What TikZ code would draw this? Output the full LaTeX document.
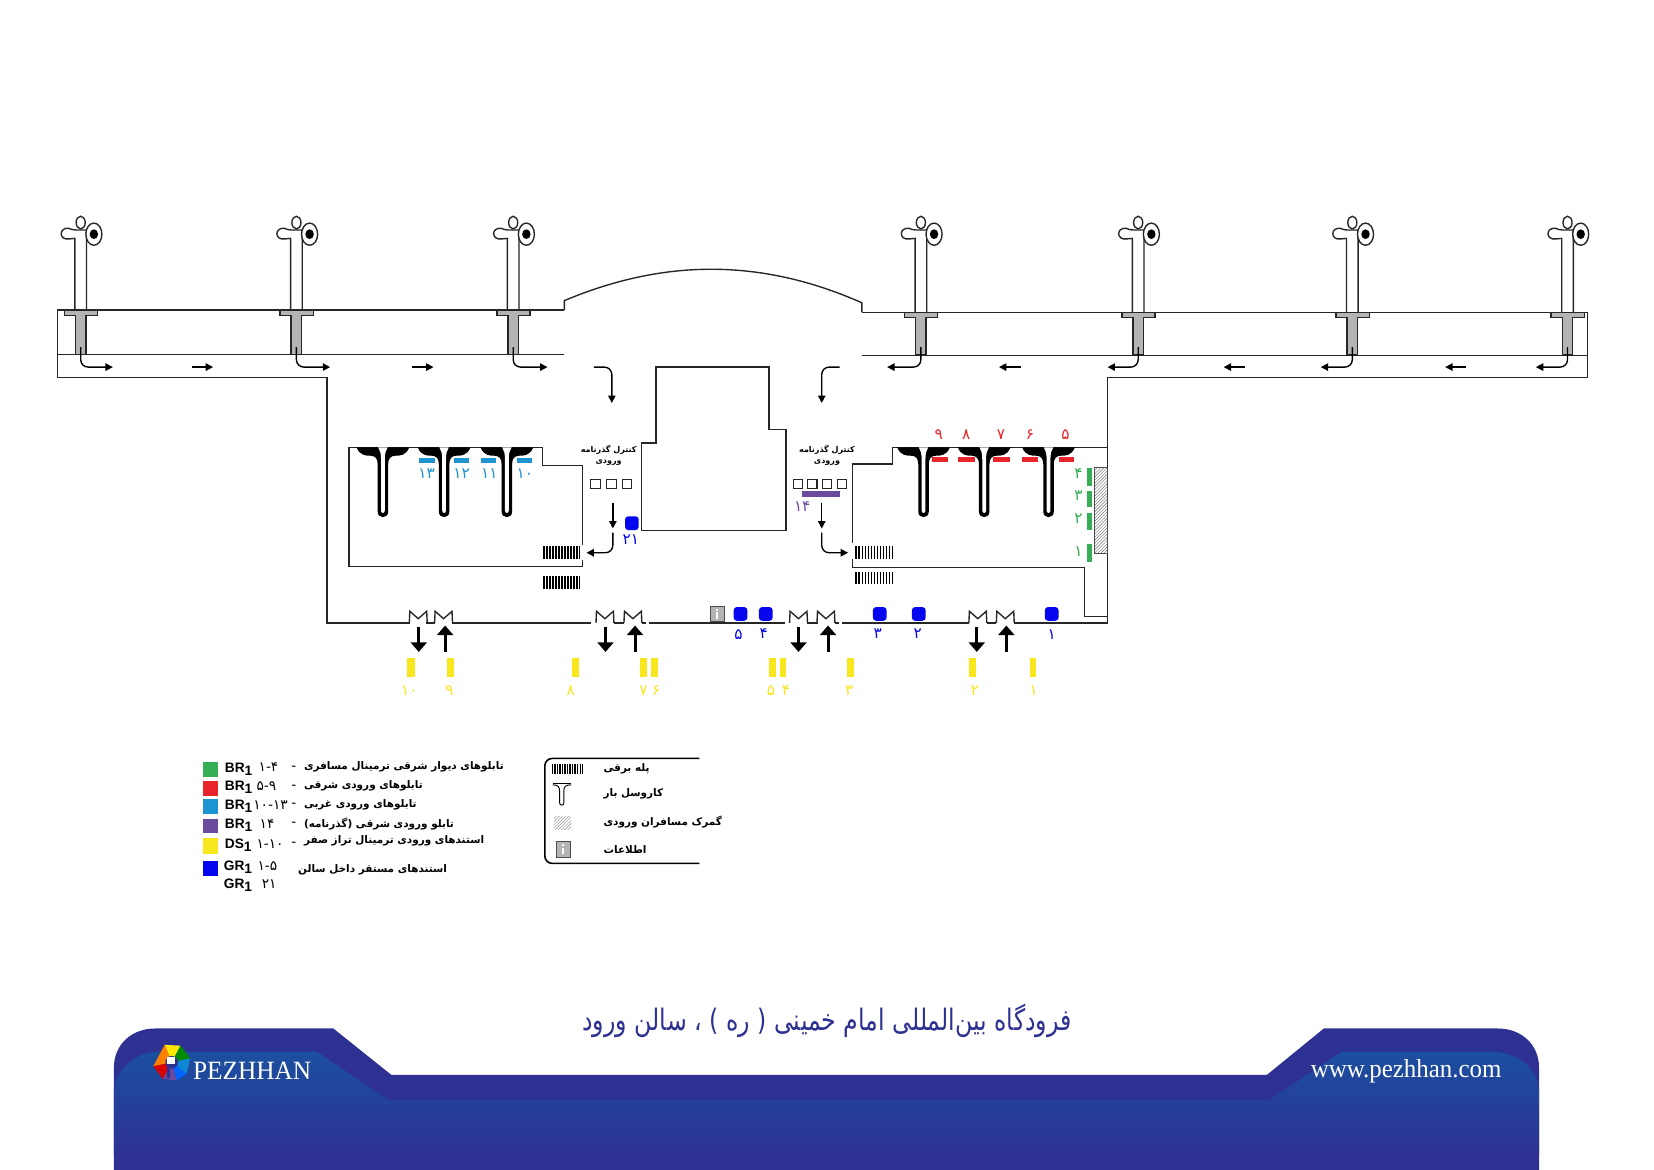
\documentclass[tikz,border=0pt]{standalone}
\usepackage{fontspec}
\usepackage{tikz}
\usetikzlibrary{arrows.meta, patterns}
\TeXXeTstate=1
\setmainfont{Liberation Serif}
\newfontfamily\arabicfont[Script=Arabic]{DejaVu Sans}
\newfontfamily\titlefont[Script=Arabic,FakeStretch=.8]{DejaVu Sans}
\newfontfamily\brandfont[FakeStretch=.96]{Liberation Serif}
\newfontfamily\legendfont{Liberation Sans}

\definecolor{navyband}{HTML}{2E3192}
\definecolor{lightband}{HTML}{1B4F9F}
\definecolor{stgreen}{HTML}{35AE55}
\definecolor{stred}{HTML}{E9242B}
\definecolor{stcyan}{HTML}{1C94D2}
\definecolor{stpurple}{HTML}{6A4B9D}
\definecolor{styellow}{HTML}{F9E71E}
\definecolor{stblue}{HTML}{0505EE}
\definecolor{stgrey}{HTML}{B4B4B4}

\tikzset{
  wall/.style={line width=1.3pt, draw=black!85},
  flow/.style={line width=1.3pt, -{Triangle[length=7pt,width=7pt]}},
  bigflow/.style={line width=2.8pt, -{Triangle[length=9pt,width=15pt]}},
  desk/.style={draw=black!85, line width=1pt, fill=white, minimum size=9pt, inner sep=0pt},
  gate/.style={fill=stblue, rounded corners=3pt, minimum size=13pt, inner sep=0pt},
  num/.style={inner sep=0pt, font=\arabicfont\fontsize{14.5}{14.5}\selectfont},
  legtext/.style={inner sep=0pt, anchor=west, font=\arabicfont\bfseries\fontsize{9.9}{11}\selectfont},
  passtext/.style={inner sep=0pt, font=\arabicfont\bfseries\fontsize{7.6}{9}\selectfont},
  legcode/.style={inner sep=0pt, anchor=west, font=\legendfont\bfseries\fontsize{13}{13}\selectfont},
  legnum/.style={inner sep=0pt, anchor=west, font=\arabicfont\fontsize{13}{13}\selectfont},
}

% jet bridge, stem down to the hall line
\newcommand{\bridge}[2]{
  \begin{scope}[shift={(#1,0)}]
    \draw[wall, fill=white] (-5.5,#2) -- (-5.5,226) -- (-11,226.5)
      .. controls (-21,228) and (-21,215) .. (-11,216.5)
      .. controls (-9,217.5) .. (-5,218) -- (5.5,218) -- (5.5,#2);
    \draw[wall, fill=white] (0,211) ellipse (4.3 and 6);
    \draw[wall, fill=white] (12.5,222) ellipse (7.6 and 10.5);
    \fill[black] (12.5,222) ellipse (4 and 4.6);
    \draw[wall, fill=stgrey] (-15.5,#2) -- (16,#2) -- (16,#2+5) -- (5,#2+5) -- (5,336)
      -- (-5,336) -- (-5,#2+5) -- (-15.5,#2+5) -- cycle;
  \end{scope}
}
% baggage carousel, black with a white slit
\newcommand{\carousel}[1]{
  \begin{scope}[shift={(#1,424)}]
    \fill[black] (-25,0) .. controls (-22,8) and (-16,8) .. (-12,8)
      .. controls (-7,8) and (-5,11) .. (-5,16) -- (-5,61) .. controls (-5,68) and (5,68) .. (5,61) -- (5,16)
      .. controls (5,11) and (7,8) .. (12,8) .. controls (16,8) and (22,8) .. (25,0) -- cycle;
    \fill[white] (-4.5,0) .. controls (-2.5,3) and (-1.8,6) .. (-1.8,12) -- (-1.8,60)
      .. controls (-1.8,63) and (1.8,63) .. (1.8,60) -- (1.8,12) .. controls (1.8,6) and (2.5,3) .. (4.5,0) -- cycle;
  \end{scope}
}
% escalator, its first bar at x and y the upper edge
\newcommand{\escalator}[3]{
  \draw[line width=#3pt, dash pattern=on 1.6pt off 1.25pt] (#1,#2+#3/2) -- ++(34.5,0);
}
% door leaf on the south wall
\newcommand{\door}[1]{
  \draw[wall] (#1-8.5,590.5) -- (#1-8,579.5) -- (#1,586.5) -- (#1+8,579.5) -- (#1+8.5,590.5);
}
% info desk
\newcommand{\infobox}[2]{
  \fill[stgrey, draw=black!70, line width=.8pt] (#1-6.5,#2-7.5) rectangle (#1+6.5,#2+7.5);
  \fill[white] (#1-.9,#2-1.5) rectangle (#1+.9,#2+5);
  \fill[white] (#1-.9,#2-5) rectangle (#1+.9,#2-3);
}
\newcommand{\logoseg}[3]{
  \fill[#1] (162.8,1007) -- ([shift={(#2:17.8)}]162.8,1007) -- ([shift={(#3:17.8)}]162.8,1007) -- cycle;
}

\begin{document}
\begin{tikzpicture}[x=1pt,y=-1pt]
  \path[use as bounding box, fill=white] (0,0) rectangle (1568,1109);

  % hall
  \draw[wall] (535,294) -- (54.4,294) -- (54.4,358) -- (310,358) -- (310,590.5) -- (389,590.5);
  \draw[wall] (54.4,336) -- (535,336);
  \draw[wall] (817,296) -- (1505,296) -- (1505,358) -- (1050,358) -- (1050,590.5) -- (961,590.5);
  \draw[wall] (817,337) -- (1505,337);
  \draw[wall] (535,294) -- (535,285) .. controls (630,245) and (722,245) .. (817,287) -- (817,296);

  \bridge{76.5}{294}
  \bridge{281}{294}
  \bridge{486.5}{294}
  \bridge{873}{296}
  \bridge{1079}{296}
  \bridge{1282}{296}
  \bridge{1486}{296}

  \draw[flow, rounded corners=7pt] (76.5,329) -- (76.5,348) -- (107,348);
  \draw[flow, rounded corners=7pt] (281,329) -- (281,348) -- (313,348);
  \draw[flow, rounded corners=7pt] (486.5,329) -- (486.5,348) -- (519,348);
  \draw[flow] (182,348) -- (202,348);
  \draw[flow] (391,348) -- (411,348);
  \draw[flow, rounded corners=7pt] (873,329) -- (873,348) -- (841,348);
  \draw[flow, rounded corners=7pt] (1079,329) -- (1079,348) -- (1050,348);
  \draw[flow, rounded corners=7pt] (1282,329) -- (1282,348) -- (1252,348);
  \draw[flow, rounded corners=7pt] (1486,329) -- (1486,348) -- (1456,348);
  \draw[flow] (968,348) -- (947,348);
  \draw[flow] (1180,348) -- (1160,348);
  \draw[flow] (1390,348) -- (1370,348);
  \draw[flow, rounded corners=7pt] (563,348) -- (580,348) -- (580,382);
  \draw[flow, rounded corners=7pt] (796,348) -- (779,348) -- (779,382);

  % centre block
  \draw[wall] (622,348) -- (729,348) -- (729,407) -- (745,407) -- (745,503) -- (608,503)
    -- (608,420) -- (622,420) -- cycle;

  % west baggage room
  \draw[wall] (552,517) -- (552,441) -- (514,441) -- (514,424) -- (331,424) -- (331,537) -- (552,537) -- (552,531);
  \carousel{363}
  \carousel{421}
  \carousel{480.5}
  \escalator{515}{518}{12}
  \escalator{515}{546}{12}
  \draw[flow] (581,477) -- (581,501);
  \draw[flow, rounded corners=7pt] (581,505) -- (581,524) -- (556,524);

  % east baggage room
  \draw[wall] (808,515) -- (808,440) -- (846,440) -- (846,424) -- (1050,424);
  \draw[wall] (808,530) -- (808,538) -- (1028,538) -- (1028,584.5) -- (1050,584.5);
  \carousel{875.5}
  \carousel{933}
  \carousel{994}
  \escalator{811}{518}{12}
  \escalator{811}{542}{12}
  \draw[flow] (779,477) -- (779,501);
  \draw[flow, rounded corners=7pt] (779,505) -- (779,524) -- (804,524);
  \draw[draw=black!70, line width=1pt, pattern=north east lines, pattern color=black!55] (1038,443) rectangle (1049.6,524.5);

  % passport desks
  \node[desk] (dw1) at (564.5,459) {};
  \node[desk] (dw2) at (579.5,459) {};
  \node[desk] (dw3) at (594.5,459) {};
  \node[desk] (de1) at (756.5,459) {};
  \node[desk] (de2) at (770,459) {};
  \node[desk] (de3) at (784,459) {};
  \node[desk] (de4) at (798,459) {};
  \node[passtext] (passw1) at (577,426) {\beginR کنترل گذرنامه\endR};
  \node[passtext] (passw2) at (577,439) {\beginR ورودی\endR};
  \node[passtext] (passe1) at (784,426) {\beginR کنترل گذرنامه\endR};
  \node[passtext] (passe2) at (784,439) {\beginR ورودی\endR};

  % boards, west
  \fill[stcyan] (397,434) rectangle (412,439);
  \fill[stcyan] (430,434) rectangle (445,439);
  \fill[stcyan] (456,434) rectangle (470.5,439);
  \fill[stcyan] (490,434) rectangle (504.5,439);
  \node[num, stcyan] (c13) at (404.5,449) {۱۳};
  \node[num, stcyan] (c12) at (437.5,449) {۱۲};
  \node[num, stcyan] (c11) at (464,449) {۱۱};
  \node[num, stcyan] (c10) at (497.5,449) {۱۰};

  % boards, east
  \fill[stred] (884,433) rectangle (899,438);
  \fill[stred] (908.5,433) rectangle (924,438);
  \fill[stred] (941,433) rectangle (957,438);
  \fill[stred] (969,433) rectangle (984,438);
  \fill[stred] (1003.5,433) rectangle (1018.5,438);
  \node[num, stred] (r9) at (890,412) {۹};
  \node[num, stred] (r8) at (916,412) {۸};
  \node[num, stred] (r7) at (949,412) {۷};
  \node[num, stred] (r6) at (976.5,412) {۶};
  \node[num, stred] (r5) at (1010,412) {۵};

  \fill[stgreen] (1030.5,444) rectangle (1035,461);
  \fill[stgreen] (1030.5,465) rectangle (1035,481);
  \fill[stgreen] (1030.5,486) rectangle (1035,502.5);
  \fill[stgreen] (1030.5,516) rectangle (1035,532.5);
  \node[num, stgreen] (g4) at (1022.5,449) {۴};
  \node[num, stgreen] (g3) at (1022.5,470) {۳};
  \node[num, stgreen] (g2) at (1022.5,492) {۲};
  \node[num, stgreen] (g1) at (1022.5,523) {۱};

  \fill[stpurple] (760.5,465) rectangle (796,471);
  \node[num, stpurple] (p14) at (760.5,480) {۱۴};

  % south wall and doors
  \draw[wall] (404,590.5) -- (412,590.5);
  \draw[wall] (428.5,590.5) -- (560.5,590.5);
  \draw[wall] (582,590.5) -- (591.5,590.5);
  \draw[wall] (608.5,590.5) -- (612,590.5);
  \draw[wall] (615,590.5) -- (744,590.5);
  \draw[wall] (765.5,590.5) -- (775,590.5);
  \draw[wall] (791.5,590.5) -- (795,590.5);
  \draw[wall] (798,590.5) -- (918.5,590.5);
  \draw[wall] (935.5,590.5) -- (944.5,590.5);
  \door{396.5}
  \door{420.5}
  \door{573.5}
  \door{600}
  \door{757}
  \door{783}
  \door{927}
  \door{953}
  \draw[bigflow] (397,594) -- (397,618);
  \draw[bigflow] (422,618) -- (422,593);
  \draw[bigflow] (574,594) -- (574,618);
  \draw[bigflow] (602,618) -- (602,593);
  \draw[bigflow] (757,594) -- (757,618);
  \draw[bigflow] (785,618) -- (785,593);
  \draw[bigflow] (926,594) -- (926,618);
  \draw[bigflow] (954,618) -- (954,593);

  % ground stands inside the hall
  \infobox{680}{582}
  \node[gate] (g5) at (702,582) {};
  \node[gate] (g4b) at (726,582) {};
  \node[gate] (g3b) at (834,582) {};
  \node[gate] (g2b) at (871,582) {};
  \node[gate] (g1b) at (997,582) {};
  \node[gate] (g21) at (599,496) {};
  \node[num, stblue] (n5) at (700,602) {۵};
  \node[num, stblue] (n4) at (724,601) {۴};
  \node[num, stblue] (n3) at (832,601) {۳};
  \node[num, stblue] (n2) at (870,601) {۲};
  \node[num, stblue] (n1) at (997,602) {۱};
  \node[num, stblue] (n21) at (598,512) {۲۱};

  % stands outside the terminal
  \fill[styellow] (386,624) rectangle (393,642);
  \fill[styellow] (423.5,624) rectangle (430,642);
  \fill[styellow] (542,624) rectangle (548.5,642);
  \fill[styellow] (607,624) rectangle (613.5,642);
  \fill[styellow] (617,624) rectangle (623.5,642);
  \fill[styellow] (729,624) rectangle (735.5,642);
  \fill[styellow] (739,624) rectangle (745.5,642);
  \fill[styellow] (803,624) rectangle (809.5,642);
  \fill[styellow] (919,624) rectangle (925.5,642);
  \fill[styellow] (976,624) rectangle (982.5,642);
  \node[num, styellow] (y10) at (388,655) {۱۰};
  \node[num, styellow] (y9) at (426,655) {۹};
  \node[num, styellow] (y8) at (541,655) {۸};
  \node[num, styellow] (y7) at (610,655) {۷};
  \node[num, styellow] (y6) at (622,655) {۶};
  \node[num, styellow] (y5) at (731,655) {۵};
  \node[num, styellow] (y4) at (745,655) {۴};
  \node[num, styellow] (y3) at (805,655) {۳};
  \node[num, styellow] (y2) at (924,655) {۲};
  \node[num, styellow] (y1) at (980,655) {۱};

  % key, colours
  \fill[stgreen] (192.5,722.5) rectangle (207,737);
  \fill[stred] (192.5,740) rectangle (207,754.5);
  \fill[stcyan] (192.5,757.5) rectangle (207,771.5);
  \fill[stpurple] (192.5,776) rectangle (207,790);
  \fill[styellow] (192.5,794) rectangle (207,809.5);
  \fill[stblue] (192.5,816) rectangle (207,830.5);
  \node[legcode] (k1) at (213,729) {BR\raisebox{-3pt}{1}};
  \node[legcode] (k2) at (213,746.5) {BR\raisebox{-3pt}{1}};
  \node[legcode] (k3) at (213,764) {BR\raisebox{-3pt}{1}};
  \node[legcode] (k4) at (213,782) {BR\raisebox{-3pt}{1}};
  \node[legcode] (k5) at (213,801) {DS\raisebox{-3pt}{1}};
  \node[legcode] (k6) at (212,822) {GR\raisebox{-3pt}{1}};
  \node[legcode] (k7) at (212,839.5) {GR\raisebox{-3pt}{1}};
  \node[legnum] (r1) at (245,727.5) {۱-۴};
  \node[legnum] (r2) at (243,745.5) {۵-۹};
  \node[legnum] (r3) at (240,763) {۱۰-۱۳};
  \node[legnum] (r4) at (246,781) {۱۴};
  \node[legnum] (r5b) at (243,800) {۱-۱۰};
  \node[legnum] (r6) at (244,821) {۱-۵};
  \node[legnum] (r7) at (248,838.5) {۲۱};
  \node[legnum] (d1) at (276,728.5) {-};
  \node[legnum] (d2) at (276,746) {-};
  \node[legnum] (d3) at (276,763.5) {-};
  \node[legnum] (d4) at (276,781.5) {-};
  \node[legnum] (d5) at (276,800.5) {-};
  \node[legtext] (t1) at (288,727) {\beginR تابلوهای دیوار شرقی ترمینال مسافری\endR};
  \node[legtext] (t2) at (288,745) {\beginR تابلوهای ورودی شرقی\endR};
  \node[legtext] (t3) at (288,763) {\beginR تابلوهای ورودی غربی\endR};
  \node[legtext] (t4) at (288,781) {\beginR تابلو ورودی شرقی (گذرنامه)\endR};
  \node[legtext] (t5) at (288,797) {\beginR استندهای ورودی ترمینال تراز صفر\endR};
  \node[legtext] (t6) at (282.5,825) {\beginR استندهای مستقر داخل سالن\endR};

  % key, symbols
  \draw[line width=1.5pt, rounded corners=7pt] (663,719) -- (516.5,719) -- (516.5,818.5) -- (663,818.5);
  \draw[line width=10pt, dash pattern=on 1.3pt off 1.1pt] (523,729) -- (553.5,729);
  \draw[line width=.9pt] (524,742.5) -- (541.5,742.5);
  \draw[line width=.9pt] (524,744) .. controls (529,744) and (530.5,746) .. (530.5,750) -- (530.5,761)
    .. controls (530.5,764) and (534.5,764) .. (534.5,761) -- (534.5,750) .. controls (534.5,746) and (536,744) .. (541.5,744);
  \fill[pattern=north east lines, pattern color=black!45] (525,774) rectangle (541.5,786);
  \infobox{534}{805}
  \node[legtext] (s1) at (572,729) {\beginR پله برقی\endR};
  \node[legtext] (s2) at (572,752.5) {\beginR کاروسل بار\endR};
  \node[legtext] (s3) at (572,779) {\beginR گمرک  مسافران ورودی\endR};
  \node[legtext] (s4) at (572,805) {\beginR اطلاعات\endR};

  % title band
  \node[inner sep=0pt, text=navyband, font=\titlefont\fontsize{28}{28}\selectfont] (title) at (784,968) {\beginR فرودگاه بین‌المللی امام خمینی ( ره ) ، سالن ورود\endR};
  \fill[navyband] (108,1109) -- (108,1012) .. controls (108,990) and (125,975) .. (147,975) -- (316,975)
    -- (371,1019) -- (1201,1019) -- (1255,975) -- (1420,975) .. controls (1442,975) and (1459,990) .. (1459,1012) -- (1459,1109) -- cycle;
  \shade[top color=lightband, bottom color=navyband] (108,1095) -- (108,1032) .. controls (112,1010) and (130,998) .. (150,997) -- (300,997)
    -- (369,1043) -- (1203,1043) -- (1272,997) -- (1415,997) .. controls (1438,998) and (1455,1010) .. (1459,1032) -- (1459,1095) -- cycle;
  % logo, angles run clockwise because y points down
  \logoseg{yellow!90!orange}{-112}{-62}
  \logoseg{green!55!black}{-62}{-12}
  \logoseg{cyan!70!blue}{-12}{38}
  \logoseg{blue!60!cyan}{38}{75}
  \logoseg{stpurple}{75}{118}
  \logoseg{red!85!black}{118}{168}
  \logoseg{orange}{168}{248}
  \fill[navyband] (162.8,1007) circle (6);
  \fill[white] (158.5,1002) rectangle (165.5,1008.5);
  \fill[navyband] (158.5,1008.5) rectangle (161.5,1022);
  \node[inner sep=0pt, text=white, font=\brandfont\fontsize{25}{25}\selectfont] (brand) at (239,1015) {PEZHHAN};
  \node[inner sep=0pt, text=white, font=\brandfont\fontsize{24.6}{25}\selectfont] (site) at (1333,1016) {www.pezhhan.com};
\end{tikzpicture}
\end{document}
